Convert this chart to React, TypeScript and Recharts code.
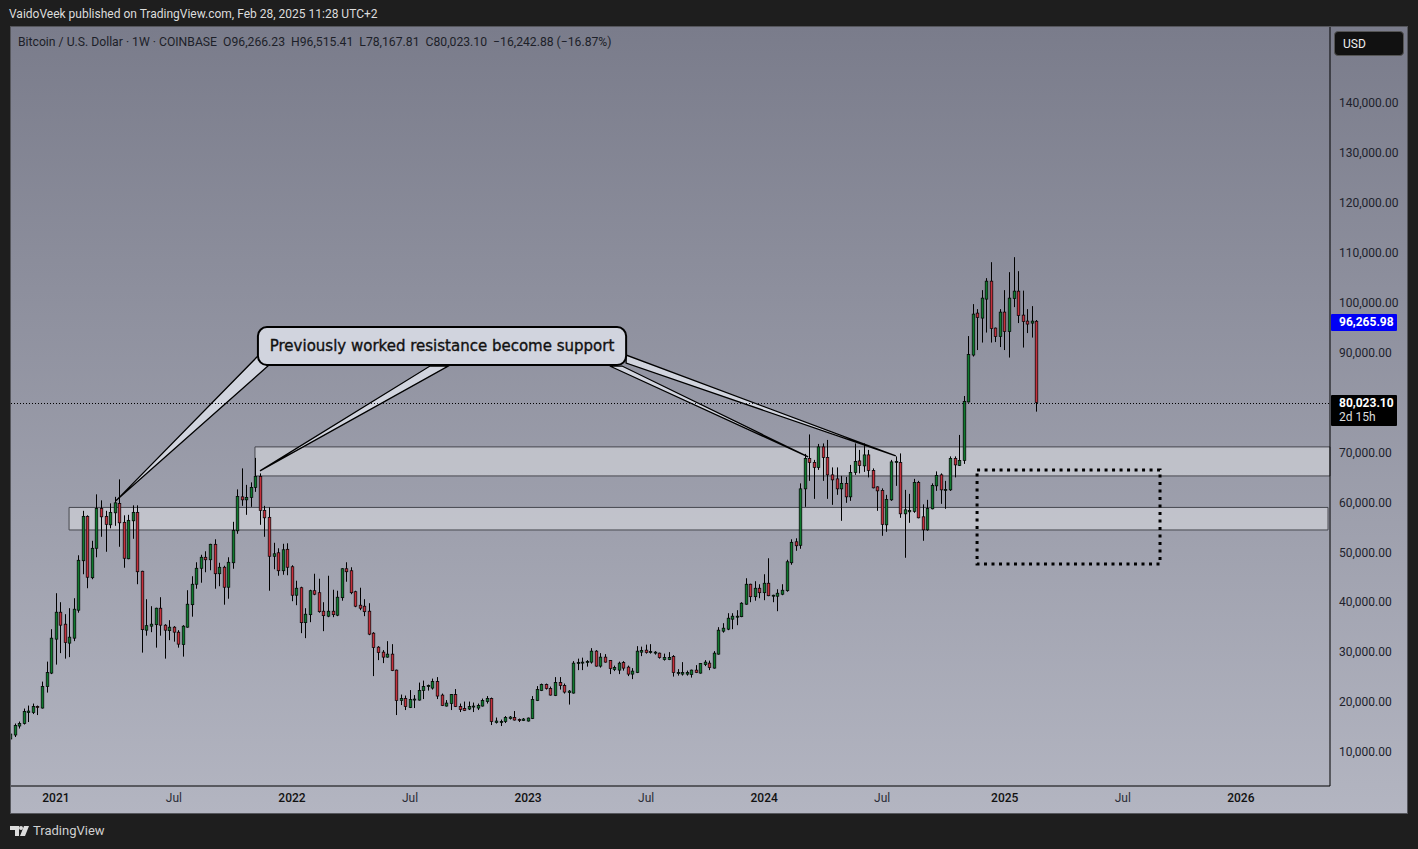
import { Bar, ComposedChart, ReferenceArea, ReferenceLine, XAxis, YAxis } from "recharts";

// weekly candles in thousands of USD, first bar is the week of Oct 26 2020
const opens = [
  12.6, 13.4, 15.2, 15.7, 17.9, 17.9, 19.1, 18.8, 23.1, 25.8,
  32.6, 38.0, 35.6, 31.8, 32.8, 38.4, 48.3, 57.2, 44.9, 50.8,
  58.8, 57.2, 55.5, 57.9, 59.8, 56.0, 48.7, 56.3, 58.0, 46.2,
  34.4, 35.2, 35.5, 38.8, 35.4, 34.3, 35.0, 34.0, 31.5, 35.0,
  39.5, 43.6, 46.8, 49.0, 48.5, 51.6, 45.7, 47.0, 43.0, 47.9,
  54.3, 61.1, 60.5, 61.0, 63.0, 65.2, 58.4, 57.0, 49.2, 49.9,
  46.3, 50.6, 47.1, 41.4, 42.9, 35.9, 37.5, 42.3, 41.9, 38.2,
  37.2, 38.2, 37.4, 40.9, 46.7, 46.3, 42.1, 39.4, 39.2, 38.2,
  33.8, 31.0, 30.0, 29.0, 29.6, 26.4, 20.3, 20.7, 18.9, 20.5,
  20.4, 22.3, 23.1, 22.8, 24.1, 21.4, 19.2, 19.7, 21.5, 19.1,
  18.7, 18.6, 19.1, 18.8, 19.2, 20.1, 20.7, 15.9, 15.9, 16.1,
  16.7, 16.9, 16.5, 16.3, 16.2, 16.7, 20.3, 22.3, 23.5, 22.7,
  21.3, 23.9, 23.3, 21.9, 21.8, 27.7, 27.8, 27.9, 28.0, 30.2,
  27.2, 29.0, 28.3, 26.5, 26.4, 27.9, 27.0, 25.6, 25.9, 30.0,
  30.4, 29.9, 29.8, 29.8, 28.5, 28.5, 29.1, 25.7, 25.6, 25.6,
  25.5, 26.4, 25.8, 27.5, 27.8, 26.8, 29.6, 34.2, 34.6, 36.6,
  37.0, 37.1, 39.6, 43.6, 41.1, 42.8, 41.9, 43.8, 41.2, 41.2,
  41.6, 42.3, 47.9, 52.1, 51.4, 62.7, 68.8, 68.0, 67.0, 71.1,
  69.0, 65.5, 64.7, 62.7, 63.8, 61.1, 66.0, 68.3, 67.3, 69.5,
  66.4, 63.1, 62.4, 55.5, 60.5, 68.0, 68.0, 57.7, 58.1, 58.2,
  64.0, 57.1, 54.5, 58.7, 63.3, 65.5, 62.5, 62.5, 68.8, 67.4,
  68.4, 80.1, 89.5, 97.9, 96.9, 100.7, 104.3, 94.9, 93.2, 98.1,
  94.2, 100.8, 102.3, 97.5, 96.3, 95.9, 96.266,
];
const highs = [
  13.9, 15.7, 16.1, 18.7, 19.3, 19.7, 19.3, 24.1, 28.1, 34.6,
  41.8, 40.0, 37.6, 38.8, 40.8, 49.4, 58.3, 57.4, 52.3, 61.6,
  60.4, 58.3, 59.8, 61.1, 64.6, 57.4, 57.5, 59.4, 59.4, 46.3,
  40.6, 39.2, 38.9, 41.0, 35.6, 36.4, 35.2, 34.4, 35.4, 42.4,
  45.2, 48.0, 49.5, 50.2, 51.7, 52.6, 47.9, 47.3, 49.0, 56.1,
  62.6, 66.8, 63.5, 64.0, 68.9, 65.8, 59.3, 59.0, 51.9, 50.8,
  51.7, 51.8, 47.4, 44.3, 43.1, 38.8, 42.5, 45.7, 44.7, 40.0,
  45.3, 42.5, 42.3, 46.8, 48.0, 47.0, 42.3, 42.9, 40.6, 39.8,
  34.0, 31.2, 30.4, 32.2, 31.6, 26.5, 21.5, 21.3, 22.4, 21.4,
  23.9, 24.3, 23.5, 24.7, 25.0, 21.7, 20.4, 21.6, 22.6, 19.7,
  20.1, 20.1, 19.9, 19.7, 20.7, 21.2, 20.9, 16.9, 16.5, 17.2,
  17.2, 18.2, 16.7, 16.8, 16.9, 21.2, 23.2, 23.7, 23.7, 23.1,
  25.0, 25.0, 23.7, 22.4, 28.2, 28.7, 28.9, 28.4, 30.8, 30.4,
  29.8, 29.6, 28.4, 27.3, 28.1, 28.2, 27.3, 26.8, 31.2, 31.1,
  31.5, 31.6, 30.2, 29.9, 29.7, 30.0, 29.4, 26.6, 28.0, 26.3,
  26.5, 27.4, 27.8, 28.4, 28.3, 30.2, 35.0, 35.8, 37.8, 37.8,
  38.4, 40.0, 44.8, 43.7, 44.2, 43.6, 45.6, 48.8, 41.5, 42.6,
  43.6, 48.5, 52.6, 52.8, 63.8, 69.7, 73.6, 68.5, 71.7, 71.8,
  72.5, 67.0, 67.0, 65.3, 65.1, 67.5, 71.8, 70.5, 71.8, 70.5,
  66.8, 63.2, 62.8, 61.5, 68.5, 69.2, 69.8, 62.5, 61.7, 64.7,
  64.3, 59.6, 60.5, 63.8, 66.2, 65.8, 64.3, 69.2, 69.2, 73.5,
  81.3, 93.3, 99.7, 98.7, 102.5, 104.9, 108.1, 95.0, 98.7, 102.5,
  106.1, 109.1, 106.3, 102.4, 98.7, 99.3, 96.515,
];
const lows = [
  12.5, 13.0, 14.7, 15.5, 16.0, 17.6, 17.4, 18.7, 21.9, 25.6,
  27.5, 29.8, 28.7, 29.0, 32.2, 37.9, 45.6, 42.8, 44.6, 49.0,
  53.1, 50.1, 54.8, 55.3, 51.1, 46.9, 48.6, 52.7, 43.6, 29.9,
  33.3, 34.0, 30.9, 33.3, 28.7, 32.4, 32.1, 30.9, 29.1, 34.9,
  37.1, 42.7, 43.9, 46.0, 46.4, 42.7, 43.2, 39.5, 40.7, 46.7,
  53.7, 59.3, 57.5, 59.1, 62.1, 55.5, 53.1, 42.3, 46.6, 45.3,
  45.5, 45.4, 40.2, 39.4, 33.8, 32.8, 36.0, 41.4, 37.9, 34.2,
  37.0, 37.0, 37.2, 40.3, 44.1, 41.6, 39.0, 38.4, 37.2, 33.4,
  25.2, 28.4, 27.8, 28.9, 26.2, 17.4, 19.4, 18.4, 18.8, 18.8,
  20.3, 20.6, 22.3, 22.5, 20.6, 19.2, 19.1, 18.4, 19.0, 18.0,
  18.2, 18.4, 18.0, 18.4, 19.1, 19.7, 15.4, 15.7, 15.2, 15.8,
  16.5, 16.3, 16.0, 16.2, 16.1, 16.6, 20.2, 22.2, 22.5, 21.3,
  21.2, 22.5, 21.7, 19.5, 21.7, 26.4, 26.4, 27.1, 27.7, 27.1,
  26.9, 27.9, 25.6, 26.2, 25.6, 26.3, 25.2, 24.6, 25.8, 29.2,
  29.7, 29.7, 29.5, 28.7, 28.3, 28.4, 25.1, 25.3, 25.3, 25.3,
  24.9, 25.8, 25.7, 27.2, 26.4, 26.7, 29.5, 33.9, 34.4, 34.6,
  35.4, 37.0, 39.5, 40.0, 40.3, 40.8, 40.4, 41.2, 40.0, 38.2,
  41.4, 42.1, 47.5, 50.3, 50.7, 59.1, 64.3, 60.7, 66.5, 64.3,
  60.7, 59.5, 61.5, 56.3, 59.9, 60.3, 65.5, 65.8, 66.1, 65.0,
  62.8, 58.3, 53.3, 54.1, 60.3, 63.3, 56.9, 48.9, 55.9, 57.9,
  56.8, 52.3, 54.3, 58.6, 62.3, 59.7, 58.7, 62.3, 65.0, 67.3,
  67.7, 80.0, 89.2, 90.5, 92.0, 94.0, 92.0, 92.1, 91.1, 90.5,
  89.0, 99.1, 95.9, 91.0, 93.9, 93.0, 78.168,
];
const closes = [
  13.6, 15.3, 15.7, 18.1, 18.2, 19.1, 18.9, 23.1, 25.9, 32.8,
  38.0, 35.4, 31.9, 33.0, 38.6, 48.4, 57.2, 45.0, 50.8, 58.8,
  57.1, 55.6, 58.0, 59.9, 55.9, 48.8, 56.4, 58.0, 46.1, 34.5,
  35.3, 35.6, 38.8, 35.4, 34.4, 35.0, 34.0, 31.6, 35.2, 39.6,
  43.6, 46.8, 49.0, 48.5, 51.6, 45.7, 47.0, 43.0, 48.0, 54.4,
  61.2, 60.5, 61.0, 63.0, 65.2, 58.4, 56.9, 49.2, 49.7, 46.3,
  50.5, 47.0, 41.4, 42.8, 35.9, 37.6, 42.3, 41.6, 38.1, 37.3,
  38.2, 37.5, 41.0, 46.7, 46.1, 41.9, 39.2, 38.8, 38.1, 33.6,
  30.9, 29.9, 29.0, 29.6, 26.3, 20.3, 20.7, 19.1, 20.5, 20.6,
  22.3, 23.1, 23.3, 24.1, 21.2, 19.3, 19.8, 21.5, 19.1, 18.5,
  18.3, 19.1, 19.2, 19.3, 20.3, 20.7, 16.1, 16.2, 16.1, 16.9,
  17.0, 16.4, 16.3, 16.6, 16.8, 20.5, 22.5, 23.5, 22.7, 21.4,
  23.9, 23.3, 22.0, 22.2, 27.8, 27.9, 28.0, 28.1, 30.2, 27.2,
  29.0, 28.0, 26.7, 26.9, 27.8, 26.8, 25.6, 26.2, 30.2, 30.3,
  29.9, 30.1, 30.0, 28.9, 28.9, 28.9, 25.9, 25.9, 25.9, 25.9,
  26.4, 25.9, 27.7, 28.0, 26.9, 29.8, 34.4, 34.8, 36.8, 37.2,
  37.2, 39.8, 43.6, 41.1, 42.8, 41.9, 43.8, 41.3, 41.4, 41.8,
  42.4, 48.1, 52.0, 51.3, 62.7, 68.8, 68.0, 67.0, 71.1, 69.0,
  65.5, 64.5, 62.7, 63.8, 61.1, 66.0, 68.2, 67.4, 69.5, 66.4,
  62.9, 62.3, 55.6, 60.6, 68.1, 68.2, 57.7, 58.5, 58.4, 64.0,
  56.9, 54.5, 58.8, 63.4, 65.4, 62.5, 62.6, 68.8, 67.5, 68.4,
  80.2, 89.6, 97.7, 97.0, 100.9, 104.3, 94.8, 93.2, 98.1, 94.2,
  100.9, 102.3, 97.4, 96.2, 95.7, 96.3, 80.023,
];

// 80,000 is covered by the last price badge
const priceTicks = [10000, 20000, 30000, 40000, 50000, 60000, 70000, 90000, 100000, 110000, 120000, 130000, 140000];
const timeTicks = [10, 36, 62, 88, 114, 140, 166, 192, 219, 245, 271];
const timeLabels = ["2021", "Jul", "2022", "Jul", "2023", "Jul", "2024", "Jul", "2025", "Jul", "2026"];

const weekDomain = [0.11, 290.64];
const priceDomain = [3190, 155200];

const lastClose = 80023.1;
const prevClose = 96265.98;

const calloutBox = { week1: 54.5, week2: 135.6, price1: 87500, price2: 95100 };
// tails of the callout: [tip, base point, base point], each as [week, price]
const calloutTails = [
  [[23.2, 60300], [54.5, 89300], [56.7, 87300]],
  [[54.96, 66300], [92.4, 87300], [96.4, 87300]],
  [[175.7, 69100], [132.0, 87300], [134.7, 87300]],
  [[195.0, 69300], [135.6, 89500], [135.6, 87900]],
];

const candles = closes.map((close, i) => ({
  week: i,
  open: opens[i] * 1000,
  high: highs[i] * 1000,
  low: lows[i] * 1000,
  close: close * 1000,
  range: [lows[i] * 1000, highs[i] * 1000],
}));

const fmt = (v: number) =>
  v.toLocaleString("en-US", { minimumFractionDigits: 2, maximumFractionDigits: 2 });

function Candle(props: any) {
  const { x, y, width, height, payload } = props;
  const { open, close, high, low } = payload;
  const perUsd = height / (high - low);
  const top = y + (high - Math.max(open, close)) * perUsd;
  const bottom = y + (high - Math.min(open, close)) * perUsd;
  const cx = Math.round(x + width / 2) + 0.5;
  return (
    <g>
      <line x1={cx} x2={cx} y1={y} y2={y + height} stroke="#000" strokeWidth={1} />
      <rect
        x={cx - 1.3}
        y={top}
        width={2.6}
        height={Math.max(bottom - top, 1)}
        fill={close >= open ? "#0f7a2e" : "#c5303c"}
        stroke="#000"
        strokeWidth={0.7}
      />
    </g>
  );
}

function TimeTick(props: any) {
  const { x, y, payload } = props;
  const label = timeLabels[timeTicks.indexOf(payload.value)];
  const isYear = label !== "Jul";
  return (
    <text
      x={x}
      y={y + 8}
      textAnchor="middle"
      fontFamily="Roboto"
      fontSize={12}
      fontWeight={isYear ? 500 : 400}
      fill={isYear ? "#111" : "#2a2c36"}
    >
      {label}
    </text>
  );
}

function Callout(props: any) {
  const { x, y, width, height } = props;
  const px = (w: number) => x + ((w - calloutBox.week1) / (calloutBox.week2 - calloutBox.week1)) * width;
  const py = (p: number) => y + ((calloutBox.price2 - p) / (calloutBox.price2 - calloutBox.price1)) * height;
  return (
    <g>
      {calloutTails.map((tail, i) => (
        <polygon
          key={i}
          points={tail.map(([w, p]) => `${px(w)},${py(p)}`).join(" ")}
          fill="#d1d4de"
          stroke="#000"
          strokeWidth={1.3}
        />
      ))}
      <rect x={x} y={y} width={width} height={height} rx={9} fill="#d1d4de" stroke="#000" strokeWidth={2} />
      <text
        x={x + width / 2}
        y={y + height / 2 + 5}
        textAnchor="middle"
        fontFamily="DejaVu Sans"
        fontSize={15}
        stroke="#111"
        strokeWidth={0.35}
        fill="#111"
      >
        Previously worked resistance become support
      </text>
    </g>
  );
}

function PriceBadge(props: any) {
  const { x1, x2, y1, label, sub, fill, dotted } = props;
  const left = Math.min(x1, x2);
  const right = Math.max(x1, x2);
  const yy = Math.ceil(y1);
  return (
    <g>
      {dotted && <line x1={left} x2={right} y1={yy + 0.5} y2={yy + 0.5} stroke="#000" strokeWidth={1} strokeDasharray="1 2" />}
      <rect x={right + 1} y={yy - 8} width={66} height={sub ? 31 : 17} fill={fill} rx={1} />
      <text x={right + 9} y={yy + 4} fill="#fff" fontFamily="Roboto" fontSize={12} fontWeight={700}>
        {label}
      </text>
      {sub && (
        <text x={right + 9} y={yy + 18} fill="#ddd" fontFamily="Roboto" fontSize={12}>
          {sub}
        </text>
      )}
    </g>
  );
}

export default function App() {
  return (
    <div style={{ position: "absolute", left: 0, top: 0, width: 1418, height: 849, background: "#1e1e1e", overflow: "hidden" }}>
      <div
        style={{
          position: "absolute",
          left: 10,
          top: 26,
          width: 1398,
          height: 788,
          boxSizing: "border-box",
          border: "1px solid #55565c",
          background: "linear-gradient(180deg, #7a7c8b 0%, #b3b5c1 100%)",
        }}
      />
      <div style={{ position: "absolute", left: 9, top: 7, color: "#dcdcdc", fontFamily: "Roboto", fontSize: 12, whiteSpace: "nowrap" }}>
        VaidoVeek published on TradingView.com, Feb 28, 2025 11:28 UTC+2
      </div>
      <div style={{ position: "absolute", left: 18, top: 35, color: "#1d1f29", fontFamily: "Roboto", fontSize: 12.2, whiteSpace: "pre" }}>
        {"Bitcoin / U.S. Dollar · 1W · COINBASE  O96,266.23  H96,515.41  L78,167.81  C80,023.10  −16,242.88 (−16.87%)"}
      </div>
      <div style={{ position: "absolute", left: 0, top: 0 }}>
        <ComposedChart
          width={1418}
          height={849}
          data={candles}
          margin={{ top: 27, left: 11, right: 10, bottom: 36 }}
        >
          <XAxis
            dataKey="week"
            type="number"
            scale="linear"
            domain={weekDomain}
            allowDataOverflow
            ticks={timeTicks}
            interval={0}
            height={27}
            tickLine={false}
            axisLine={{ stroke: "#000" }}
            tick={TimeTick}
          />
          <YAxis
            orientation="right"
            type="number"
            domain={priceDomain}
            allowDataOverflow
            ticks={priceTicks}
            interval={0}
            width={78}
            tickLine={false}
            tickSize={0}
            tickMargin={9}
            axisLine={{ stroke: "#000" }}
            tick={{ fill: "#20222c", fontSize: 12, fontFamily: "Roboto" }}
            tickFormatter={fmt}
          />
          <ReferenceArea x1={53.85} x2={290.64} y1={65290} y2={71100} fill="#d9dadf" fillOpacity={0.6} stroke="#3c3d44" strokeOpacity={0.9} />
          <ReferenceArea x1={12.9} x2={290.2} y1={54470} y2={58980} fill="#d9dadf" fillOpacity={0.6} stroke="#3c3d44" strokeOpacity={0.9} />
          <Bar dataKey="range" shape={Candle} barSize={4} isAnimationActive={false} />
          <ReferenceArea x1={212.9} x2={253.2} y1={47660} y2={66490} fill="none" stroke="#000" strokeWidth={3} strokeDasharray="3 4.5" />
          <ReferenceArea
            x1={calloutBox.week1}
            x2={calloutBox.week2}
            y1={calloutBox.price1}
            y2={calloutBox.price2}
            shape={Callout}
          />
          <ReferenceLine y={prevClose} stroke="none" shape={(p: any) => <PriceBadge {...p} label={fmt(prevClose)} fill="#0000f5" />} />
          <ReferenceLine y={lastClose} shape={(p: any) => <PriceBadge {...p} label={fmt(lastClose)} sub="2d 15h" fill="#000" dotted />} />
        </ComposedChart>
      </div>
      <div
        style={{
          position: "absolute",
          left: 1334,
          top: 31,
          width: 70,
          height: 25,
          boxSizing: "border-box",
          background: "#111",
          border: "1px solid #555",
          borderRadius: 4,
          color: "#eee",
          fontFamily: "Roboto",
          fontSize: 12,
          lineHeight: "24px",
          paddingLeft: 8,
        }}
      >
        USD
      </div>
      <svg style={{ position: "absolute", left: 0, top: 820 }} width={32} height={22}>
        <polygon points="10,6 19,6 19,16 15,16 15,10 10,10" fill="#ddd" />
        <circle cx={21} cy={8} r={2} fill="#ddd" />
        <polygon points="24,6 29,6 25,16 20,16" fill="#ddd" />
      </svg>
      <div style={{ position: "absolute", left: 33, top: 823, color: "#d0d0d0", fontFamily: "Roboto", fontSize: 13, whiteSpace: "nowrap" }}>
        TradingView
      </div>
    </div>
  );
}
